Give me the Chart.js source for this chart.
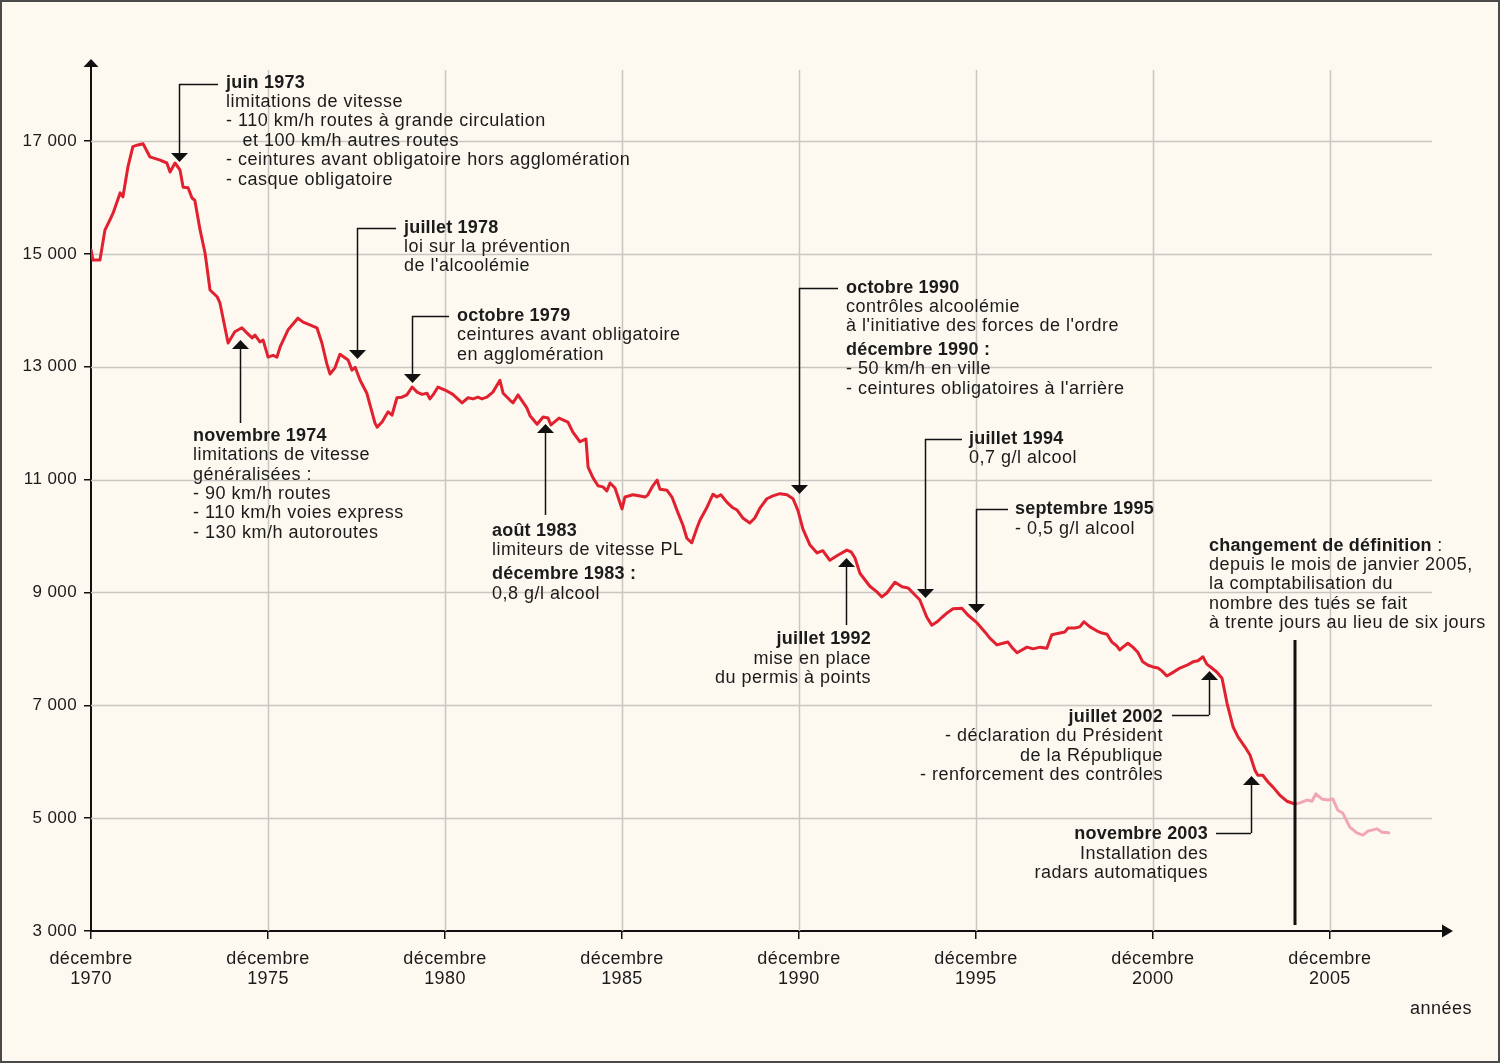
<!DOCTYPE html>
<html><head><meta charset="utf-8">
<script src="https://cdn.jsdelivr.net/npm/chart.js@4"></script>
<style>html,body{margin:0;padding:0;background:#fdf9f0}#wrap{width:1500px;height:1063px}</style>
</head><body><div id="wrap"><canvas id="c" width="1500" height="1063"></canvas></div>
<script>
// Nombre de tués sur les routes (cumul sur 12 mois glissants)
const years = [
1970.92,1970.97,1971.17,1971.31,1971.45,1971.54,1971.74,1971.82,1971.96,1972.10,
1972.24,1972.39,1972.58,1972.87,1973.06,1973.15,1973.29,1973.43,1973.52,1973.66,
1973.77,1973.85,1974.00,1974.14,1974.28,1974.48,1974.56,1974.79,1974.98,1975.18,
1975.32,1975.47,1975.55,1975.69,1975.78,1975.92,1976.06,1976.17,1976.26,1976.48,
1976.76,1976.91,1977.10,1977.30,1977.44,1977.58,1977.67,1977.81,1977.95,1978.18,
1978.29,1978.38,1978.52,1978.71,1978.94,1979.00,1979.14,1979.31,1979.42,1979.56,
1979.70,1979.84,1979.99,1980.13,1980.27,1980.41,1980.49,1980.58,1980.72,1980.97,
1981.14,1981.40,1981.57,1981.71,1981.85,1981.96,1982.10,1982.27,1982.47,1982.56,
1982.75,1982.84,1982.98,1983.23,1983.32,1983.52,1983.69,1983.83,1983.91,1983.97,
1984.14,1984.39,1984.53,1984.73,1984.90,1984.96,1985.10,1985.24,1985.38,1985.49,
1985.58,1985.72,1985.92,1986.00,1986.23,1986.43,1986.57,1986.65,1986.79,1986.91,
1986.99,1987.19,1987.33,1987.50,1987.64,1987.75,1987.89,1988.04,1988.12,1988.32,
1988.49,1988.60,1988.71,1988.88,1989.05,1989.17,1989.33,1989.53,1989.67,1989.82,
1990.01,1990.18,1990.38,1990.58,1990.75,1990.89,1991.03,1991.23,1991.43,1991.59,
1991.79,1991.99,1992.27,1992.39,1992.50,1992.64,1992.92,1993.12,1993.26,1993.40,
1993.63,1993.83,1994.00,1994.14,1994.33,1994.53,1994.67,1994.82,1994.96,1995.13,
1995.27,1995.52,1995.69,1995.95,1996.17,1996.31,1996.51,1996.68,1996.82,1996.93,
1997.08,1997.36,1997.53,1997.73,1997.92,1998.06,1998.29,1998.43,1998.52,1998.71,
1998.85,1998.97,1999.14,1999.33,1999.48,1999.62,1999.76,1999.90,1999.98,2000.07,
2000.21,2000.35,2000.49,2000.63,2000.78,2000.92,2001.06,2001.17,2001.31,2001.45,
2001.68,2001.88,2002.05,2002.19,2002.33,2002.44,2002.58,2002.72,2002.87,2003.01,
2003.18,2003.32,2003.52,2003.66,2003.80,2003.88,2004.02,2004.17,2004.31,2004.50,
2004.70,2004.93];
const deaths = [
15070,14890,14890,15420,15600,15720,16080,16010,16540,16900,
16930,16950,16720,16660,16610,16450,16610,16490,16180,16170,
15990,15950,15420,15010,14360,14240,14130,13420,13620,13690,
13600,13510,13560,13440,13470,13170,13200,13170,13350,13650,
13860,13790,13740,13690,13420,13050,12870,12980,13220,13120,
12940,12990,12760,12530,12000,11930,12020,12200,12140,12450,
12460,12500,12640,12550,12510,12530,12430,12500,12640,12570,
12510,12360,12450,12430,12460,12430,12460,12550,12760,12530,
12410,12360,12500,12270,12130,11980,12110,12090,11970,12000,
12090,12020,11840,11670,11720,11220,11030,10890,10870,10800,
10940,10850,10480,10690,10730,10710,10690,10730,10890,10990,
10830,10810,10690,10410,10190,9960,9880,10150,10280,10510,
10740,10690,10730,10600,10500,10460,10320,10230,10320,10500,
10660,10710,10750,10730,10660,10450,10120,9840,9700,9740,
9570,9650,9750,9720,9610,9340,9110,9010,8920,8990,
9180,9100,9080,8990,8870,8560,8420,8480,8560,8650,
8710,8720,8600,8460,8300,8190,8070,8100,8120,8030,
7930,8030,8000,8030,8010,8250,8280,8300,8370,8370,
8390,8480,8390,8320,8280,8260,8120,8050,7980,8030,
8100,8030,7940,7770,7710,7680,7660,7610,7520,7570,
7660,7710,7770,7790,7860,7730,7660,7590,7480,7040,
6620,6440,6260,6120,5850,5760,5760,5640,5550,5410,
5300,5250];
// après le changement de définition (tués à 30 jours)
const years30 = [2004.93,2005.07,2005.27,2005.41,2005.52,2005.69,2005.86,2006.00,2006.14,2006.28,2006.48,2006.68,2006.85,2006.99,2007.25,2007.39,2007.58];
const deaths30 = [5250,5270,5320,5300,5430,5340,5320,5340,5140,5090,4840,4740,4700,4770,4810,4750,4740];

const xTickValues = [1970.917,1975.917,1980.917,1985.917,1990.917,1995.917,2000.917,2005.917];
const xTickLabels = [["décembre","1970"],["décembre","1975"],["décembre","1980"],["décembre","1985"],["décembre","1990"],["décembre","1995"],["décembre","2000"],["décembre","2005"]];
const yTickValues = [3000,5000,7000,9000,11000,13000,15000,17000];
const yTickLabels = ["3 000","5 000","7 000","9 000","11 000","13 000","15 000","17 000"];

const FONT = '"Liberation Sans", Arial, Helvetica, sans-serif';
const INK = '#1b1b1b';

// annotation layout (pixels): text lines [text, bold, y], connector elbow [x1,x2,y], arrow [x, yStart, yTip]
const notes = [
 {x:226, align:'left', lines:[['juin 1973',1,83],['limitations de vitesse',0,102],['- 110 km/h routes à grande circulation',0,121],['   et 100 km/h autres routes',0,141],['- ceintures avant obligatoire hors agglomération',0,160],['- casque obligatoire',0,180]], elbow:[179,218,84], arrow:[179,84,162]},
 {x:193, align:'left', lines:[['novembre 1974',1,436],['limitations de vitesse',0,455],['généralisées :',0,475],['- 90 km/h routes',0,494],['- 110 km/h voies express',0,513],['- 130 km/h autoroutes',0,533]], arrow:[240,423,340]},
 {x:404, align:'left', lines:[['juillet 1978',1,228],['loi sur la prévention',0,247],["de l'alcoolémie",0,266]], elbow:[357,396,228], arrow:[357,228,359]},
 {x:457, align:'left', lines:[['octobre 1979',1,316],['ceintures avant obligatoire',0,335],['en agglomération',0,355]], elbow:[412,449,316], arrow:[412,316,383]},
 {x:492, align:'left', lines:[['août 1983',1,531],['limiteurs de vitesse PL',0,550],['décembre 1983 :',1,574],['0,8 g/l alcool',0,594]], arrow:[545,515,424]},
 {x:846, align:'left', lines:[['octobre 1990',1,288],['contrôles alcoolémie',0,307],["à l'initiative des forces de l'ordre",0,326],['décembre 1990 :',1,350],['- 50 km/h en ville',0,369],["- ceintures obligatoires à l'arrière",0,389]], elbow:[799,838,288], arrow:[799,288,494]},
 {x:871, align:'right', lines:[['juillet 1992',1,639],['mise en place',0,659],['du permis à points',0,678]], arrow:[846,625,558]},
 {x:969, align:'left', lines:[['juillet 1994',1,439],['0,7 g/l alcool',0,458]], elbow:[925,962,439], arrow:[925,439,598]},
 {x:1015, align:'left', lines:[['septembre 1995',1,509],['- 0,5 g/l alcool',0,529]], elbow:[976,1008,509], arrow:[976,509,613]},
 {x:1209, align:'left', lines:[[[['changement de définition',1],[' :',0]],0,546],['depuis le mois de janvier 2005,',0,565],['la comptabilisation du',0,584],['nombre des tués se fait',0,604],['à trente jours au lieu de six jours',0,623]]},
 {x:1163, align:'right', lines:[['juillet 2002',1,717],['- déclaration du Président',0,736],['de la République',0,756],['- renforcement des contrôles',0,775]], elbow:[1172,1209,715], arrow:[1209,715,671]},
 {x:1208, align:'right', lines:[['novembre 2003',1,834],['Installation des',0,854],['radars automatiques',0,873]], elbow:[1216,1251,833], arrow:[1251,833,776]}
];

function setFont(ctx, bold){
  ctx.font = (bold ? 'bold ' : '') + '18px ' + FONT;
  ctx.letterSpacing = bold ? '0.2px' : '0.5px';
}

const deco = {
  id: 'deco',
  beforeDraw(chart){
    const ctx = chart.ctx;
    ctx.save();
    ctx.fillStyle = '#fdf9f0';
    ctx.fillRect(0,0,chart.width,chart.height);
    ctx.restore();
    ctx.letterSpacing = '0.4px';
  },
  beforeDatasetsDraw(chart){
    const ctx = chart.ctx, xs = chart.scales.x, ys = chart.scales.y, a = chart.chartArea;
    ctx.save();
    ctx.strokeStyle = '#c9c7c2';
    ctx.lineWidth = 1.5;
    xTickValues.slice(1).forEach(v => {
      const px = Math.round(xs.getPixelForValue(v)) + 0.5;
      ctx.beginPath(); ctx.moveTo(px, 70); ctx.lineTo(px, a.bottom); ctx.stroke();
    });
    yTickValues.slice(1).forEach(v => {
      const py = Math.round(ys.getPixelForValue(v)) + 0.5;
      ctx.beginPath(); ctx.moveTo(a.left, py); ctx.lineTo(1432, py); ctx.stroke();
    });
    ctx.restore();
  },
  afterDraw(chart){
    const ctx = chart.ctx, a = chart.chartArea;
    ctx.save();
    ctx.fillStyle = '#111';
    // axis arrows
    ctx.beginPath(); ctx.moveTo(a.left, 59); ctx.lineTo(a.left-7.5, 67); ctx.lineTo(a.left+7.5, 67); ctx.closePath(); ctx.fill();
    ctx.beginPath(); ctx.moveTo(1453, a.bottom); ctx.lineTo(1442, a.bottom-6.5); ctx.lineTo(1442, a.bottom+6.5); ctx.closePath(); ctx.fill();
    // change of definition marker
    const xs = chart.scales.x;
    const xc = xs.getPixelForValue(years30[0]);
    ctx.fillRect(Math.round(xc)-1.5, 640, 3, 285);
    // annotations
    ctx.strokeStyle = '#111';
    ctx.lineWidth = 1.5;
    ctx.textBaseline = 'middle';
    notes.forEach(n => {
      if (n.elbow){
        const [x1,x2,y] = n.elbow;
        ctx.beginPath(); ctx.moveTo(x1, y+0.5); ctx.lineTo(x2, y+0.5); ctx.stroke();
      }
      if (n.arrow){
        const [x, y0, tip] = n.arrow;
        const dir = tip > y0 ? 1 : -1;
        const base = tip - dir*9;
        ctx.beginPath(); ctx.moveTo(x+0.5, y0); ctx.lineTo(x+0.5, base); ctx.stroke();
        ctx.beginPath(); ctx.moveTo(x+0.5, tip); ctx.lineTo(x+0.5-8.5, base); ctx.lineTo(x+0.5+8.5, base); ctx.closePath(); ctx.fill();
      }
      ctx.fillStyle = INK;
      n.lines.forEach(([t, b, y]) => {
        if (Array.isArray(t)){
          let cx = n.x;
          ctx.textAlign = 'left';
          t.forEach(([s, bb]) => { setFont(ctx, bb); ctx.fillText(s, cx, y); cx += ctx.measureText(s).width; });
        } else {
          setFont(ctx, b);
          ctx.textAlign = n.align;
          ctx.fillText(t, n.x, y);
        }
      });
      ctx.fillStyle = '#111';
    });
    // axis title
    setFont(ctx, 0);
    ctx.textAlign = 'center';
    ctx.fillStyle = INK;
    ctx.fillText('années', 1441, 1009);
    // frame
    ctx.strokeStyle = '#4a4a4a';
    ctx.lineWidth = 2;
    ctx.strokeRect(1, 1, chart.width-2, chart.height-2);
    ctx.restore();
  }
};

new Chart(document.getElementById('c'), {
  type: 'line',
  data: {
    datasets: [
      { data: years.map((x,i) => ({x, y: deaths[i]})), borderColor: '#e1212f', borderWidth: 3, pointRadius: 0, tension: 0, borderJoinStyle: 'round', borderCapStyle: 'round' },
      { data: years30.map((x,i) => ({x, y: deaths30[i]})), borderColor: '#f1a6b3', borderWidth: 3, pointRadius: 0, tension: 0, borderJoinStyle: 'round', borderCapStyle: 'round' }
    ]
  },
  options: {
    responsive: false,
    devicePixelRatio: 1,
    animation: false,
    events: [],
    layout: { padding: { top: 62, right: 50, left: 0, bottom: 0 } },
    plugins: { legend: { display: false }, tooltip: { enabled: false } },
    scales: {
      x: {
        type: 'linear', min: 1970.917, max: 2009.31,
        afterBuildTicks: s => { s.ticks = xTickValues.map(v => ({value: v})); },
        afterFit: s => { s.height = 132; },
        ticks: { callback: (v, i) => xTickLabels[i], maxRotation: 0, autoSkip: false, padding: 10.5, color: INK, font: { family: FONT, size: 18, lineHeight: 1.08 } },
        grid: { display: true, drawOnChartArea: false, drawTicks: true, tickLength: 8, color: '#111', lineWidth: 1.5 },
        border: { display: true, color: '#111', width: 2 }
      },
      y: {
        type: 'linear', min: 3000, max: 18400,
        afterBuildTicks: s => { s.ticks = yTickValues.map(v => ({value: v})); },
        afterFit: s => { s.width = 91; },
        ticks: { callback: (v, i) => yTickLabels[i], padding: 7, color: INK, font: { family: FONT, size: 17 } },
        grid: { display: true, drawOnChartArea: false, drawTicks: true, tickLength: 7, color: '#111', lineWidth: 1.5 },
        border: { display: true, color: '#111', width: 2 }
      }
    }
  },
  plugins: [deco]
});
</script></body></html>
